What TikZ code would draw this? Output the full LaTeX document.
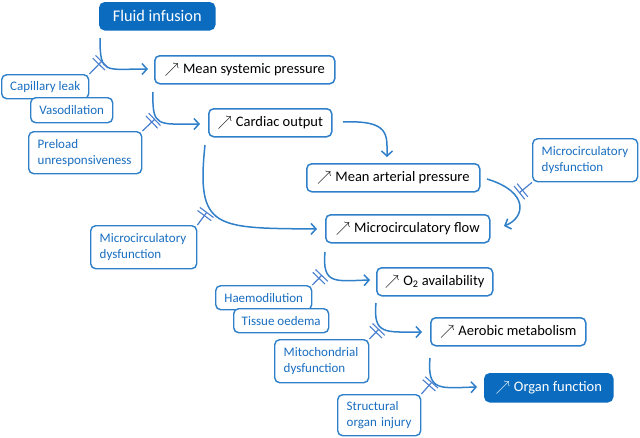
\documentclass[tikz,border=0pt]{standalone}
\usepackage{fontspec}
\setmainfont{Carlito}
\usetikzlibrary{arrows.meta}
\definecolor{fillblue}{HTML}{0B6CBF}
\definecolor{lineblue}{HTML}{2F7FC9}
\definecolor{txtblue}{HTML}{1A6EC0}
\definecolor{inhblue}{HTML}{4A7ED0}
\newcommand{\up}{$\nearrow$\hspace{4pt}}
\tikzset{
  box/.style={draw=lineblue, line width=1.5pt, rounded corners=5pt, fill=white,
    anchor=north west, inner sep=0pt, font=\fontsize{14.5}{17}\selectfont, text=black, align=center},
  filledbox/.style={box, fill=fillblue, draw=fillblue, text=white},
  lbl/.style={draw=lineblue, line width=1.4pt, rounded corners=5pt, fill=white,
    anchor=north west, inner sep=0pt, font=\fontsize{13}{16}\selectfont, text=txtblue, align=center},
  lbl2/.style={lbl, align=left},
  flow/.style={draw=lineblue, line width=1.5pt, -{Straight Barb[length=5pt,width=11pt,line width=1.5pt]}},
  inhib/.style={draw=inhblue, line width=1.2pt, -{Bar[width=17pt,sep=2.8pt,line width=1.1pt]Bar[width=17pt,line width=1.1pt]}}
}
\begin{document}
\begin{tikzpicture}[x=1pt,y=-1pt]
\useasboundingbox (0,0) rectangle (640,437);
% main nodes
\node[filledbox, minimum width=115, minimum height=27, font=\fontsize{16.3}{19}\selectfont] (fi) at (99,2) {Fluid infusion};
\node[box, minimum width=180, minimum height=28] (msp) at (154,55) {\up Mean systemic pressure};
\node[box, minimum width=123, minimum height=28] (co) at (208,108) {\up Cardiac output};
\node[box, minimum width=173, minimum height=28] (map) at (306,163) {\up Mean arterial pressure};
\node[box, minimum width=164, minimum height=28] (mf) at (325,214) {\up Microcirculatory flow};
\node[box, minimum width=116, minimum height=28] (o2) at (376,267) {\up O\textsubscript{2} availability};
\node[box, minimum width=155, minimum height=28] (am) at (430,317) {\up Aerobic metabolism};
\node[filledbox, minimum width=128, minimum height=28] (of) at (484,373) {\up Organ function};
% modifier labels
\node[lbl, minimum width=87, minimum height=24] (cl) at (1,74) {Capillary leak};
\node[lbl, minimum width=82, minimum height=25] (vd) at (30,97) {Vasodilation};
\node[lbl2, minimum width=113, minimum height=42, text width=95, inner xsep=9pt] (pre) at (28,131) {Preload\\unresponsiveness};
\node[lbl2, minimum width=105, minimum height=43, text width=87, inner xsep=9pt] (mdr) at (532,138) {Microcirculatory\\dysfunction};
\node[lbl2, minimum width=106, minimum height=43, text width=88, inner xsep=9pt] (mdl) at (90,225) {Microcirculatory\\dysfunction};
\node[lbl, minimum width=96, minimum height=24] (hae) at (215,285) {Haemodilution};
\node[lbl, minimum width=95, minimum height=24] (to) at (233,308) {Tissue oedema};
\node[lbl2, minimum width=94, minimum height=43, text width=76, inner xsep=9pt] (mito) at (274,339) {Mitochondrial\\dysfunction};
\node[lbl2, minimum width=83, minimum height=41, text width=65, inner xsep=9pt] (soi) at (337,394) {Structural\\organ injury};
% flow start / end coordinates
\coordinate (s1) at (100,38);  \coordinate (e1) at (148,69);
\coordinate (s2) at (153,92);  \coordinate (e2) at (200,124);
\coordinate (s3) at (343,122); \coordinate (e3) at (387,157);
\coordinate (s4) at (205,145); \coordinate (e4) at (317,229);
\coordinate (s5) at (487,179); \coordinate (e5) at (504,226);
\coordinate (s6) at (325,252); \coordinate (e6) at (370,280);
\coordinate (s7) at (376,303); \coordinate (e7) at (422,332);
\coordinate (s8) at (430,358); \coordinate (e8) at (477,387);
% flows
\draw[flow] (s1) .. controls (100,75) and (105,69) .. (e1);
\draw[flow] (s2) .. controls (152,128) and (158,124) .. (e2);
\draw[flow] (s3) .. controls (390,120) and (387,135) .. (e3);
\draw[flow] (s4) .. controls (196,230) and (215,228) .. (e4);
\draw[flow] (s5) .. controls (530,192) and (525,218) .. (e5);
\draw[flow] (s6) .. controls (322,285) and (335,281) .. (e6);
\draw[flow] (s7) .. controls (373,335) and (385,332) .. (e7);
\draw[flow] (s8) .. controls (427,392) and (440,388) .. (e8);
% inhibition points
\coordinate (h1) at (102,61);
\coordinate (h2) at (155,119);
\coordinate (h3) at (207,212);
\coordinate (h4) at (519,193);
\coordinate (h5) at (322,275);
\coordinate (h6) at (379,329);
\coordinate (h7) at (432,382);
\draw[inhib] (cl.north east) -- (h1);
\draw[inhib] (pre.north east) -- (h2);
\draw[inhib] (mdl.north east) -- (h3);
\draw[inhib] (mdr.south west) -- (h4);
\draw[inhib] (hae.north east) -- (h5);
\draw[inhib] (mito.north east) -- (h6);
\draw[inhib] (soi.north east) -- (h7);
\end{tikzpicture}
\end{document}
